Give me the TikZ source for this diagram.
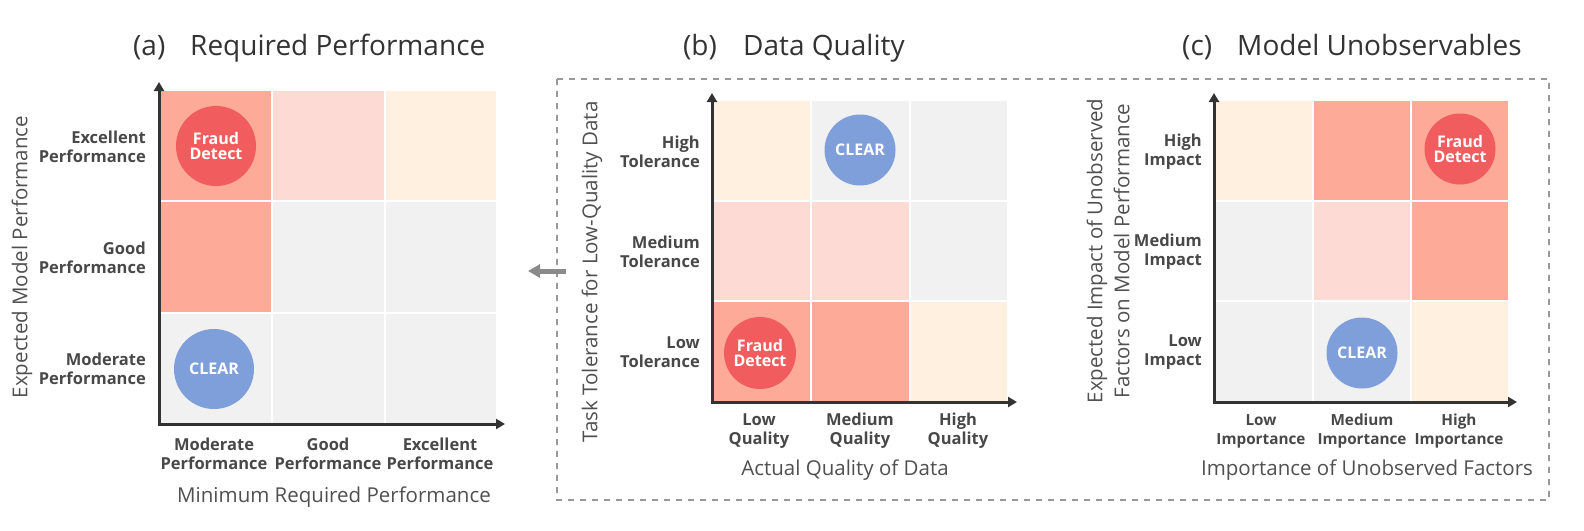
\documentclass[tikz,border=0pt]{standalone}
\usepackage{fontspec}
\setmainfont{Open Sans}
\usetikzlibrary{arrows.meta}
\definecolor{cdark}{HTML}{FDAA98}
\definecolor{clight}{HTML}{FDDBD4}
\definecolor{ccream}{HTML}{FFF0DF}
\definecolor{cgrey}{HTML}{F1F1F1}
\definecolor{cred}{HTML}{F15D5E}
\definecolor{cblue}{HTML}{7F9FDA}
\definecolor{ctitle}{HTML}{333333}
\definecolor{clab}{HTML}{484848}
\definecolor{caxt}{HTML}{505050}
\definecolor{caxis}{HTML}{333333}
\definecolor{cdash}{HTML}{999999}
\definecolor{carrow}{HTML}{8A8A8A}
\begin{document}
\begin{tikzpicture}[x=1pt,y=-1pt,
  cellA/.style={draw=none,inner sep=0pt,outer sep=0pt,minimum width=110.3pt,minimum height=109.3pt},
  cellB/.style={draw=none,inner sep=0pt,outer sep=0pt,minimum width=96.3pt,minimum height=98.7pt},
  cellC/.style={draw=none,inner sep=0pt,outer sep=0pt,minimum width=96pt,minimum height=98.7pt},
  bubble/.style={circle,inner sep=0pt,text=white,font=\bfseries\fontsize{16}{15}\selectfont,align=center},
  ylab/.style={anchor=east,align=right,text=clab,inner sep=0pt,font=\bfseries\fontsize{16.5}{19}\selectfont},
  xlab/.style={align=center,text=clab,inner sep=0pt,font=\bfseries\fontsize{16.5}{19}\selectfont},
  xlabnarrow/.style={xlab,font=\bfseries\fontsize{15.3}{19}\selectfont},
  axtitle/.style={text=caxt,font=\fontsize{20.5}{27}\selectfont,align=center},
  ptitle/.style={anchor=base west,text=ctitle,font=\fontsize{28}{32}\selectfont,inner sep=0pt},
  axisline/.style={draw=caxis,line width=3pt,-{Triangle[length=9pt,width=10pt]}},
]
\useasboundingbox (0,0) rectangle (1584,530);

% ---------- titles
\node[ptitle] (ta) at (133,55) {(a)};
\node[ptitle] (tan) at (190,55) {Required Performance};
\node[ptitle] (tb) at (683,55) {(b)};
\node[ptitle] (tbn) at (743,55) {Data Quality};
\node[ptitle] (tc) at (1182,55) {(c)};
\node[ptitle] (tcn) at (1237,55) {Model Unobservables};

% ---------- dashed frame and arrow
\draw[cdash,line width=1.5pt,dash pattern=on 6pt off 6pt] (557,79) rectangle (1549,500);
\coordinate (arrS) at (566,271);
\coordinate (arrE) at (528,271);
\draw[carrow,line width=5pt,-{Triangle[length=12pt,width=13pt]}] (arrS) -- (arrE);

% ---------- panel (a)
\node[cellA,fill=cdark]  (a11) at (216.2,145.7) {};
\node[cellA,fill=clight] (a12) at (328.5,145.7) {};
\node[cellA,fill=ccream] (a13) at (440.8,145.7) {};
\node[cellA,fill=cdark]  (a21) at (216.2,257) {};
\node[cellA,fill=cgrey]  (a22) at (328.5,257) {};
\node[cellA,fill=cgrey]  (a23) at (440.8,257) {};
\node[cellA,fill=cgrey]  (a31) at (216.2,368.3) {};
\node[cellA,fill=cgrey]  (a32) at (328.5,368.3) {};
\node[cellA,fill=cgrey]  (a33) at (440.8,368.3) {};
\coordinate (oa) at (159,424);
\coordinate (ya) at (159,82);
\coordinate (xa) at (505,424);
\draw[axisline] ([yshift=-1.5pt]oa) -- (ya);
\draw[axisline] ([xshift=-1.5pt]oa) -- (xa);
\node[bubble,fill=cred,minimum size=80pt] (fa) at (216,146) {Fraud\\Detect};
\node[bubble,fill=cblue,minimum size=80pt] (ca) at (214,369) {CLEAR};
\node[ylab] (ay1) at (146,147) {Excellent\\Performance};
\node[ylab] (ay2) at (146,258) {Good\\Performance};
\node[ylab] (ay3) at (146,369) {Moderate\\Performance};
\node[xlab] (ax1) at (214,454) {Moderate\\Performance};
\node[xlab] (ax2) at (328,454) {Good\\Performance};
\node[xlab] (ax3) at (440,454) {Excellent\\Performance};
\node[axtitle] (axt) at (334,497) {Minimum Required Performance};
\node[axtitle,rotate=90] (ayt) at (22,257) {Expected Model Performance};

% ---------- panel (b)
\node[cellB,fill=ccream] (b11) at (762.2,150.3) {};
\node[cellB,fill=cgrey]  (b12) at (860.5,150.3) {};
\node[cellB,fill=cgrey]  (b13) at (958.8,150.3) {};
\node[cellB,fill=clight] (b21) at (762.2,251) {};
\node[cellB,fill=clight] (b22) at (860.5,251) {};
\node[cellB,fill=cgrey]  (b23) at (958.8,251) {};
\node[cellB,fill=cdark]  (b31) at (762.2,351.7) {};
\node[cellB,fill=cdark]  (b32) at (860.5,351.7) {};
\node[cellB,fill=ccream] (b33) at (958.8,351.7) {};
\coordinate (ob) at (712,402);
\coordinate (yb) at (712,93);
\coordinate (xb) at (1017,402);
\draw[axisline] ([yshift=-1.5pt]ob) -- (yb);
\draw[axisline] ([xshift=-1.5pt]ob) -- (xb);
\node[bubble,fill=cblue,minimum size=71pt] (cb) at (860,150) {CLEAR};
\node[bubble,fill=cred,minimum size=72pt] (fb) at (760,353) {Fraud\\Detect};
\node[ylab] (by1) at (700,152) {High\\Tolerance};
\node[ylab] (by2) at (700,252) {Medium\\Tolerance};
\node[ylab] (by3) at (700,352) {Low\\Tolerance};
\node[xlab] (bx1) at (759,431) {Low\\Quality};
\node[xlab] (bx2) at (860,431) {Medium\\Quality};
\node[xlab] (bx3) at (958,431) {High\\Quality};
\node[axtitle] (bxt) at (845,470) {Actual Quality of Data};
\node[axtitle,rotate=90] (byt) at (592,272) {Task Tolerance for Low-Quality Data};

% ---------- panel (c)
\node[cellC,fill=ccream] (c11) at (1264,150.3) {};
\node[cellC,fill=cdark]  (c12) at (1362,150.3) {};
\node[cellC,fill=cdark]  (c13) at (1460,150.3) {};
\node[cellC,fill=cgrey]  (c21) at (1264,251) {};
\node[cellC,fill=clight] (c22) at (1362,251) {};
\node[cellC,fill=cdark]  (c23) at (1460,251) {};
\node[cellC,fill=cgrey]  (c31) at (1264,351.7) {};
\node[cellC,fill=cgrey]  (c32) at (1362,351.7) {};
\node[cellC,fill=ccream] (c33) at (1460,351.7) {};
\coordinate (oc) at (1214,402);
\coordinate (yc) at (1214,93);
\coordinate (xc) at (1517,402);
\draw[axisline] ([yshift=-1.5pt]oc) -- (yc);
\draw[axisline] ([xshift=-1.5pt]oc) -- (xc);
\node[bubble,fill=cred,minimum size=71pt] (fc) at (1460,149) {Fraud\\Detect};
\node[bubble,fill=cblue,minimum size=71pt] (cc) at (1362,353) {CLEAR};
\node[ylab] (cy1) at (1202,152) {High\\Impact};
\node[ylab] (cy2) at (1202,252) {Medium\\Impact};
\node[ylab] (cy3) at (1202,352) {Low\\Impact};
\node[xlabnarrow] (cx1) at (1261,431) {Low\\Importance};
\node[xlabnarrow] (cx2) at (1362,431) {Medium\\Importance};
\node[xlabnarrow] (cx3) at (1459,431) {High\\Importance};
\node[axtitle] (cxt) at (1367,470) {Importance of Unobserved Factors};
\node[axtitle,rotate=90] (cyt) at (1108,251) {Expected Impact of Unobserved\\Factors on Model Performance};
\end{tikzpicture}
\end{document}
